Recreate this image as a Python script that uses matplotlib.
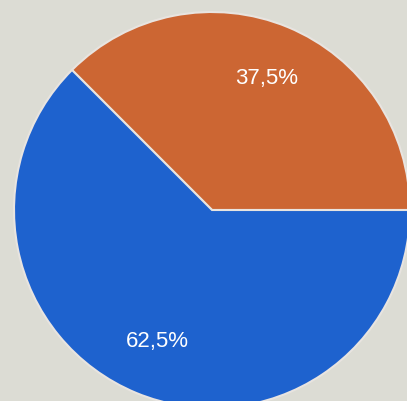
import matplotlib
matplotlib.use("Agg")
import matplotlib.pyplot as plt

categories = ["A", "B"]
values = [37.5, 62.5]
colors = ["#CC6633", "#1E62CE"]

fig = plt.figure(figsize=(4.07, 4.01), dpi=100)
fig.patch.set_facecolor("#DCDCD4")
ax = fig.add_axes([0, 0, 1, 1])
ax.set_facecolor("#DCDCD4")

def fmt(p):
    return f"{p:.1f}".replace(".", ",") + "%"

wedges, texts, autotexts = ax.pie(
    values, colors=colors, startangle=0, counterclock=True,
    autopct=fmt, pctdistance=0.72, radius=1,
    wedgeprops=dict(edgecolor="#E8E4E0", linewidth=1.5),
    textprops=dict(color="white", fontsize=16, family="Liberation Sans"),
)
ax.set_xlim(-1.0707, 0.9848)
ax.set_ylim(-0.9646, 1.0606)
ax.set_aspect("equal")
ax.axis("off")
fig.savefig("out.png", dpi=100, facecolor=fig.get_facecolor())
